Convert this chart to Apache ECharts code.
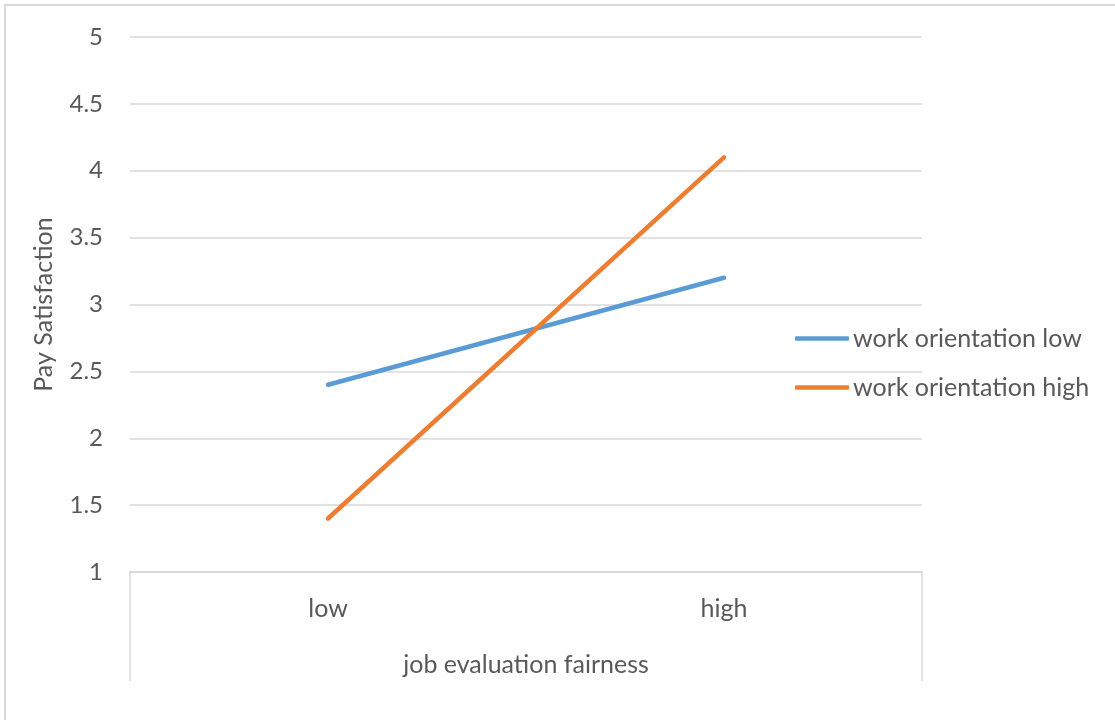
<!DOCTYPE html>
<html>
<head>
<meta charset="utf-8">
<script src="https://cdn.jsdelivr.net/npm/echarts@6/dist/echarts.min.js"></script>
<style>
  html, body { margin: 0; padding: 0; background: #fff; }
  #chart { width: 1115px; height: 720px; }
</style>
</head>
<body>
<div id="chart"></div>
<script>
// Interaction plot: pay satisfaction by job evaluation fairness
const categories = ['low', 'high'];
const seriesNames = ['work orientation low', 'work orientation high'];
const workOrientationLow = [2.4, 3.2];
const workOrientationHigh = [1.4, 4.1];
const yMin = 1, yMax = 5, yStep = 0.5;

const FONT = 'Lato';
const TEXT = '#595959';
const GRID = '#d9d9d9';
const BLUE = '#5b9bd5';
const ORANGE = '#ed7d31';

const chart = echarts.init(document.getElementById('chart'));

chart.setOption({
  animation: false,
  textStyle: { fontFamily: FONT },
  graphic: [{
    type: 'rect',
    shape: { x: 5, y: 5, width: 1200, height: 800 },
    style: { fill: 'none', stroke: '#d9d9d9', lineWidth: 2 },
    silent: true,
    z: -1
  }],
  grid: { left: 130, right: 193, top: 37, bottom: 148 },
  legend: {
    orient: 'vertical',
    left: 790,
    top: 321,
    icon: 'roundRect',
    itemWidth: 54,
    itemHeight: 4.5,
    itemGap: 24,
    data: seriesNames,
    textStyle: { fontFamily: FONT, fontSize: 25, color: TEXT, padding: [0, 0, 0, -1] }
  },
  xAxis: [{
    type: 'category',
    data: categories,
    boundaryGap: true,
    name: 'job evaluation fairness',
    nameLocation: 'middle',
    nameGap: 80,
    nameTextStyle: { fontFamily: FONT, fontSize: 25, color: TEXT },
    axisLine: { show: true, lineStyle: { color: GRID, width: 2 } },
    axisTick: { show: false },
    axisLabel: { margin: 24, fontFamily: FONT, fontSize: 25, color: TEXT }
  }, {
    // outer category boundaries: long tick marks at both ends
    type: 'value',
    position: 'bottom',
    min: 0, max: 1, interval: 1,
    axisLine: { show: false },
    axisLabel: { show: false },
    splitLine: { show: false },
    axisTick: { show: true, inside: false, length: 109, lineStyle: { color: GRID, width: 1.5 } }
  }],
  yAxis: {
    type: 'value',
    min: yMin, max: yMax, interval: yStep,
    name: 'Pay Satisfaction',
    nameLocation: 'middle',
    nameGap: 74,
    nameTextStyle: { fontFamily: FONT, fontSize: 25, color: TEXT },
    axisLine: { show: false },
    axisTick: { show: false },
    axisLabel: { margin: 27, fontFamily: FONT, fontSize: 24, color: TEXT },
    splitLine: { show: true, lineStyle: { color: GRID, width: 1.5 } }
  },
  series: [{
    name: seriesNames[0],
    type: 'line',
    data: workOrientationLow,
    symbol: 'none',
    lineStyle: { color: BLUE, width: 4.5, cap: 'round' },
    itemStyle: { color: BLUE }
  }, {
    name: seriesNames[1],
    type: 'line',
    data: workOrientationHigh,
    symbol: 'none',
    lineStyle: { color: ORANGE, width: 4.5, cap: 'round' },
    itemStyle: { color: ORANGE }
  }]
});
</script>
</body>
</html>
